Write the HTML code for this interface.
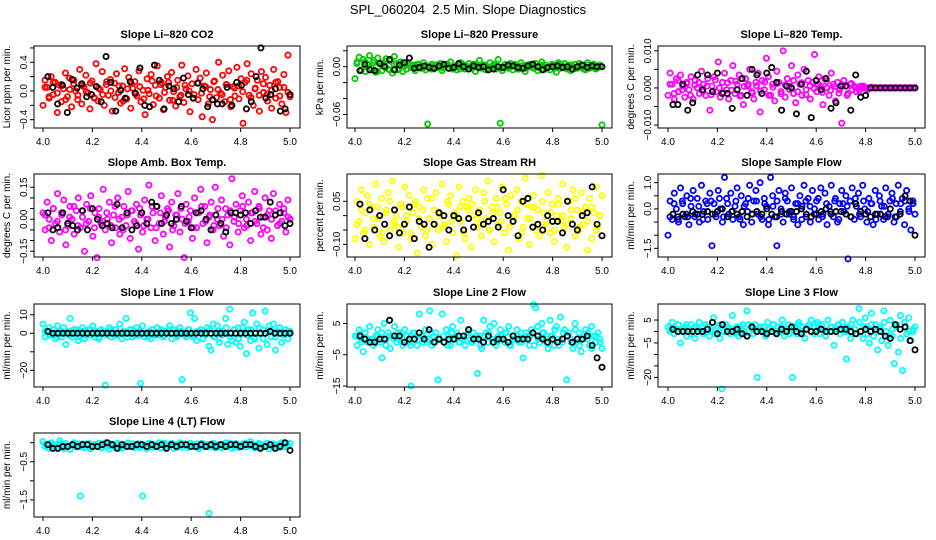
<!DOCTYPE html>
<html><head><meta charset="utf-8"><style>
html,body{margin:0;padding:0;background:#fff;}
svg{display:block;font-family:"Liberation Sans",Arial,sans-serif;}
</style></head><body>
<svg id="chart" width="936" height="540" viewBox="0 0 936 540" xmlns="http://www.w3.org/2000/svg">
<rect width="936" height="540" fill="#fff"/>
<text x="468" y="14" text-anchor="middle" font-size="13">SPL_060204&#160; 2.5 Min. Slope Diagnostics</text>
</svg>
<script>
// ---- data (scaled integers, divided by panel scale) ----
const xTicks = [4.0, 4.2, 4.4, 4.6, 4.8, 5.0];
const xTickLabels = ["4.0", "4.2", "4.4", "4.6", "4.8", "5.0"];

const co2Color = [-20,15,5,-10,20,-5,12,-30,8,-15,3,25,-8,18,-22,10,0,-12,30,-18,6,22,-3,-25,14,-9,38,-14,2,27,-20,9,-6,16,-28,11,24,-2,-17,7,31,-11,19,-24,4,13,-7,28,-15,1,-33,17,-4,23,-19,8,35,-10,12,-26,5,20,-13,26,-1,-21,15,-8,36,-16,3,21,-29,10,-5,30,-12,18,-36,7,25,-18,2,-40,14,-9,40,-3,22,-15,9,28,-22,6,-7,33,-11,17,-45,12,38,-6,24,-20,4,15,-28,27,-2,19,-14,8,-24,30,-10,13,5,-18,23,-30,50,-8];
const co2Core = [5,-8,12,-3,9,-12,2,15,-6,8,-1,11,-10,4,-5,13,0,-9,7,-14,3,10,-4,6,-11,1,14,-7,9,-2,12,-13,5,-6,8,0,-10,11,-3,6,-8,13,2,-5,9,-12,4,7,-1,15,-9,3,-6,10,-4,1,12,-7,5,-2];
const co2Black = [20,5,-18,8,-30,16,4,10,-8,-5,6,-15,48,12,-28,1,-10,13,-3,32,-20,-22,36,15,-25,7,3,-15,18,-5,-10,11,3,-22,-12,-18,-18,5,-20,12,8,-25,-15,20,60,-10,-5,3,-28,-25,-5];

const presColor = [-15,6,12,-4,9,-6,3,14,-2,8,-7,11,5,-5,2,10,-3,7,-8,13,4,-4,6,-6,1,-3,4,-1,2,-5,3,0,-2,5,-4,-72,1,3,-3,2,-1,4,-5,0,3,-2,6,-3,1,-4,2,5,-1,-3,0,4,-2,3,-6,1,8,-2,2,-4,0,5,-1,3,-3,9,-71,-5,2,0,-2,4,-4,3,1,-3,5,-1,-6,2,0,3,-2,4,-5,1,6,-3,2,-1,-4,3,0,-7,5,-2,1,4,-3,2,-5,0,3,-2,4,-1,1,-4,5,-2,0,3,-3,-1,2,-73];
const presCore = [4,-5,6,-3,5,-6,2,7,-4,3,-2,4,-3,2,-1,3,-2,1,-3,2,0,-2,3,-1,1,-3,2,0,-2,3,-1,2,-3,1,0,-2,3,-1,2,-3,1,-2,3,0,-1,2,-3,1,-2,3,0,-1,2,-2,1,-3,2,0,-1,1];
const presBlack = [-5,3,-4,-5,4,0,9,-4,2,5,11,-2,-1,1,-1,-2,1,3,-2,-1,4,0,-3,1,-1,0,-4,-3,0,-1,2,1,-1,-2,1,3,0,-4,-1,0,1,-1,0,-3,0,2,-1,1,0,0];

const tempColor = [-20,40,10,-30,25,-10,35,5,-25,15,-5,30,-30,20,0,-15,45,10,-20,25,-60,5,30,-10,70,-25,15,40,-5,-30,20,60,-15,10,35,-20,-45,25,5,50,-10,-30,15,40,-65,20,-5,80,30,-20,10,-35,45,15,-10,100,-25,25,5,60,-15,-40,35,10,-20,50,-5,20,-30,15,90,-10,30,5,-45,25,0,-20,40,10,-35,15,-5,-95,20,5,-15,10,-5,5,-10,0,5,0,0,0,0,0,0,0,0,0,0,0,0,0,0,0,0,0,0,0,0,0,0,0,0,0,0];
const tempCore = [10,-15,20,-5,12,-20,8,15,-10,5,-18,22,0,-12,14,-6,18,-22,4,10,-14,6,-8,16,-20,2,12,-16,8,-4,20,-10,14,-18,6,-2,10,-12,18,-6,4,-14,8,-20,12,0,-8,5,-4,2,0,0,0,0,0,0,0,0,0,0];
const tempBlack = [-45,-45,10,-60,-40,35,-5,35,-10,40,-15,-15,-55,-5,25,-20,50,35,-15,40,55,15,-60,5,0,-70,10,45,-80,20,-5,25,-55,-40,5,5,-60,35,-25,-20,0,0,0,0,0,0,0,0,0,0];

const ambColor = [3,-5,8,0,-10,5,-2,12,-6,2,9,-12,-3,6,0,-7,4,10,-4,1,-15,7,-1,11,-8,3,-18,5,-2,14,-5,0,8,-11,2,-4,10,-7,1,6,-3,13,-9,4,-1,7,-14,2,-6,9,0,16,-4,3,-10,6,-2,11,-7,1,5,-13,8,-3,2,12,-6,0,-18,7,-1,4,-9,10,-4,3,14,-2,6,-11,1,8,-5,15,0,-3,9,-8,5,2,-12,19,-1,7,-6,4,11,-4,0,8,-10,3,13,-2,6,-7,1,10,-5,4,-9,12,2,-3,7,-1,5,-6,9,0];
const ambCore = [2,-4,5,-1,3,-5,1,6,-3,4,-2,5,-4,1,-1,3,-3,6,0,-5,2,4,-2,5,-3,0,6,-4,3,-1,4,-5,2,5,-2,1,-4,3,6,-1,2,-3,5,0,-4,4,1,-2,6,-3,3,-1,5,-4,2,0,4,-2,3,1];
const ambBlack = [3,-5,-4,3,-2,-3,-5,4,-5,5,0,-3,-2,-4,7,-4,3,-5,-3,3,-2,8,6,-2,2,-2,0,6,-1,-4,3,4,0,-5,2,-2,-6,3,3,2,3,-2,4,1,1,8,2,3,-3,-2];

const rhColor = [-8,5,-2,9,-6,1,7,-10,3,-4,11,-1,-7,6,-9,2,8,-5,12,-3,0,-11,4,-6,10,-2,7,-8,1,5,-13,3,-4,9,-7,6,-1,-10,2,8,-5,0,11,-3,-9,4,7,-6,1,-14,10,-2,5,-8,3,6,-11,0,9,-4,2,-7,8,-1,12,-5,3,-9,6,-3,1,10,-6,4,-12,7,-2,0,9,-8,5,-4,13,-1,-10,3,7,-5,2,-7,14,1,-3,8,-6,4,-9,0,6,-2,11,-4,-11,5,-1,9,-7,2,-5,8,-3,3,-12,6,-8,1,10,-4,0,7];
const rhCore = [-3,2,-5,4,-1,3,-6,1,5,-2,-4,3,0,-6,4,-1,2,-5,6,-3,1,-4,5,-2,0,3,-6,2,4,-1,-3,5,-5,1,3,-2,6,-4,0,2,-6,4,-1,3,-3,5,-2,1,-5,4,0,-3,2,6,-4,1,-2,3,-5,0];
const rhBlack = [4,-8,2,-5,0,-3,-7,2,-6,-3,3,-8,-2,-3,-11,-3,1,0,-5,0,-1,-5,-1,-4,1,-3,-2,-1,-4,9,0,-2,-7,5,6,-4,-3,-5,0,-2,-2,-6,5,-3,-5,0,1,10,-3,-7];

const sampColor = [-10,3,-4,6,0,-5,8,2,-3,5,-6,1,7,-2,4,-5,9,-1,3,-4,6,-14,2,-3,7,0,-5,12,4,-2,6,-4,1,8,-3,5,-6,2,-1,9,-5,3,7,-2,10,-4,4,1,-6,12,5,-3,-14,7,0,-5,6,3,-2,8,-4,2,-6,5,1,9,-3,4,-5,7,0,3,-4,8,-2,6,-6,1,9,-3,4,-5,2,7,-1,5,-19,3,8,-4,1,6,-3,9,0,-5,4,2,-6,7,-2,5,1,-4,8,-3,3,6,-5,2,9,-1,4,-6,7,0,-8,3,-2];
const sampCore = [-3,2,-4,3,-2,4,-3,1,-4,2,3,-2,4,-3,2,-1,3,-4,1,4,-2,3,-3,2,-4,1,3,-2,4,-1,-3,2,-4,3,1,-2,4,-3,2,-1,3,-4,2,1,-3,4,-2,3,-1,2,-4,3,1,-2,4,-3,2,3,-1,2];
const sampBlack = [-2,-3,-2,-3,-1,-2,-2,-1,-2,-1,0,-3,-1,-2,-1,-3,-2,-1,-2,0,-2,-3,-1,-2,-1,-1,0,-2,-3,-2,-1,0,-2,-1,-1,-2,-3,2,-1,-2,-3,-2,-2,-3,0,-3,-2,5,3,-10];

const l1Color = [5,-2,1,3,-1,2,-3,4,0,-2,3,-6,1,8,-2,0,2,-4,1,3,-3,0,2,-1,4,-2,1,-3,2,0,-28,1,3,-2,0,2,-1,5,-3,1,8,0,2,-2,1,3,-1,-27,4,-2,0,1,-3,2,0,3,-1,2,-2,1,0,4,-3,2,1,-1,3,-25,0,-2,2,11,-1,8,-4,1,2,-3,0,3,-7,-9,5,-2,4,-5,1,0,8,-6,13,-4,2,-5,3,-7,0,6,-11,2,-4,11,-3,5,-8,0,2,12,-6,4,-2,5,-9,1,3,-5,0,2,-3,1];
const l1Core = [1,-1,2,-2,1,0,-1,2,-2,1,-1,2,0,-2,1,-1,2,-1,0,1,-2,2,-1,1,0,-2,2,-1,1,-1,2,0,-2,1,-1,2,-2,1,0,-1,2,-2,1,-1,3,-2,2,-3,3,-1,2,-2,3,-3,1,2,-2,3,-1,1];
const l1Black = [1,0,0,0,0,0,0,0,0,0,0,0,0,0,0,0,0,0,0,0,0,0,0,0,0,0,0,0,0,0,0,0,0,0,0,0,0,0,0,0,0,0,0,0,0,1,0,0,0,0];

const l2Color = [1,-2,3,0,-4,2,-1,4,0,-2,1,3,-1,-6,5,0,2,-3,1,4,-1,0,2,-2,3,1,-1,-15,2,0,-2,8,1,-1,3,0,9,-2,1,2,-13,0,8,-1,3,1,-2,4,0,2,-1,6,0,-2,1,3,-1,2,0,-11,1,-3,6,2,-1,4,0,5,-2,1,3,0,-1,2,4,-2,1,0,3,-1,2,-6,0,1,-2,3,11,10,4,-1,5,2,0,-3,6,1,-2,4,0,7,-1,3,-13,2,0,-3,5,-1,2,-4,1,3,0,-2,4,1,-1,2,0,-3];
const l2Core = [1,-1,2,0,-1,1,2,-2,1,0,2,-1,1,-2,2,0,1,-1,2,-1,0,1,-2,2,1,-1,0,2,-1,1,-2,1,2,0,-1,1,2,-2,0,1,-1,2,1,-2,0,2,-1,1,3,-2,2,1,-1,3,-2,0,2,-3,1,-1];
const l2Black = [1,0,-1,-1,0,0,6,1,1,-1,0,0,2,0,3,-1,0,-1,0,0,1,1,3,0,0,-1,1,-1,0,0,-1,1,0,0,0,2,1,0,-1,0,-1,0,1,-1,0,0,1,-2,-6,-9];

const l3Color = [2,0,4,-1,1,3,-5,0,2,-2,1,3,0,-3,2,4,0,-1,3,1,-2,0,6,-1,2,-3,-25,0,3,1,-1,7,0,2,-2,1,3,-1,9,0,2,-1,3,-20,1,0,2,-2,4,1,0,3,-1,2,0,5,-2,1,3,0,-20,2,-1,4,0,2,-3,1,3,5,2,0,4,-1,3,1,-2,5,0,2,-6,1,3,-1,4,0,-12,2,-3,5,1,-1,10,0,-3,6,2,-5,8,-2,3,-8,1,-4,9,0,-6,5,-2,-14,2,-9,7,-17,4,-1,6,-4,0,2];
const l3Core = [1,2,0,1,3,-1,2,1,0,2,1,-1,3,0,2,1,-1,2,0,3,1,0,2,-1,1,3,0,2,1,-1,2,3,0,1,2,-1,3,1,0,2,1,3,2,0,3,1,4,2,-1,3,0,2,4,-2,1,3,-3,2,0,1];
const l3Black = [1,0,0,0,0,0,0,1,4,-1,3,0,0,1,-1,-2,2,0,0,-1,0,-1,1,0,2,0,-1,1,0,0,1,0,0,0,1,1,0,-1,0,1,0,1,0,-2,-3,3,1,2,-4,-8];

const l4Color = [3,-10,-5,-15,0,-8,-12,-3,5,-6,-15,-2,-9,-18,-4,0,-11,-7,-140,-3,-13,-6,-1,-16,-8,-4,-10,-2,-14,-5,0,-9,-17,-3,-7,-12,-1,-6,-15,-4,-8,0,-11,-3,-13,-6,-2,-10,-140,-5,-16,-1,-8,-12,-4,-9,0,-14,-6,-3,-11,-7,-2,-15,-5,-9,0,-12,-4,-8,-13,-1,-6,-10,-3,-16,-7,-2,-11,-5,-185,-9,-1,-14,-6,-4,-12,-8,0,-10,-3,-15,-7,-2,-13,-5,-9,-1,-11,-6,3,-4,-14,-8,-2,-12,-5,-10,-1,-16,-7,-3,-9,-13,-6,0,-11,-4,-8,-2];
const l4Core = [-4,-12,-6,-9,-2,-14,-7,-10,-3,-11,-5,-13,-8,-1,-12,-6,-9,-4,-15,-7,-2,-10,-5,-13,-8,-3,-11,-6,-14,-1,-9,-5,-12,-7,-3,-10,-6,-13,-2,-8,-11,-4,-9,-14,-6,-1,-12,-7,-10,-3,-8,-13,-5,-11,-2,-9,-6,-12,-4,-10];
const l4Black = [-5,-15,-15,-10,-10,-5,-10,-5,-5,-10,-10,-5,0,-5,-15,-5,-10,-10,-5,-5,-10,-5,-10,-5,-15,-5,-10,-5,-5,-10,-10,-5,-10,-5,-10,-5,-10,-5,-5,-10,-5,-5,-10,-15,-10,-5,-15,-10,0,-20];

// ---- panel definitions ----
const cols = [[34,300,43,290],[347,612,355,602],[658,925,668,915]];
const rows = [[46,128],[174,257],[304,387],[433,517]];
const panels = [
 {name:"co2",title:"Slope Li\u2013820 CO2",ylab:"Licor ppm per min.",color:"#ff0000",c:co2Color,k:co2Core,b:co2Black,scale:100,ymin:-0.516,ymax:0.627,ticks:[-0.4,-0.2,0,0.2,0.4,0.6],labels:{"-0.4":"\u22120.4","0":"0.0","0.4":"0.4"},col:0,row:0},
 {name:"pressure",title:"Slope Li\u2013820 Pressure",ylab:"kPa per min.",color:"#00cc00",c:presColor,k:presCore,b:presBlack,scale:1000,ymin:-0.077,ymax:0.026,ticks:[0.02,0,-0.02,-0.04,-0.06],labels:{"0":"0.00","-0.06":"\u22120.06"},col:1,row:0},
 {name:"li820-temp",title:"Slope Li\u2013820 Temp.",ylab:"degrees C per min.",color:"#ff00ff",c:tempColor,k:tempCore,b:tempBlack,scale:10000,ymin:-0.0108,ymax:0.0113,ticks:[0.01,0.005,0,-0.005,-0.01],labels:{"0.01":"0.010","0":"0.000","-0.01":"\u22120.010"},col:2,row:0},
 {name:"amb-box-temp",title:"Slope Amb. Box Temp.",ylab:"degrees C per min.",color:"#ff00ff",c:ambColor,k:ambCore,b:ambBlack,scale:100,ymin:-0.177,ymax:0.212,ticks:[0.15,0.1,0.05,0,-0.05,-0.1,-0.15],labels:{"0.15":"0.15","0":"0.00","-0.15":"\u22120.15"},col:0,row:1},
 {name:"gas-stream-rh",title:"Slope Gas Stream RH",ylab:"percent per min.",color:"#ffff00",c:rhColor,k:rhCore,b:rhBlack,scale:100,ymin:-0.144,ymax:0.145,ticks:[0.05,0,-0.05,-0.1],labels:{"0.05":"0.05","-0.1":"\u22120.10"},col:1,row:1},
 {name:"sample-flow",title:"Slope Sample Flow",ylab:"ml/min per min.",color:"#0000ff",c:sampColor,k:sampCore,b:sampBlack,scale:10,ymin:-1.83,ymax:1.33,ticks:[1,0.5,0,-0.5,-1,-1.5],labels:{"1":"1.0","0":"0.0","-1.5":"\u22121.5"},col:2,row:1},
 {name:"line1-flow",title:"Slope Line 1 Flow",ylab:"ml/min per min.",color:"#00ffff",c:l1Color,k:l1Core,b:l1Black,scale:1,ymin:-29,ymax:15.8,ticks:[10,0,-10,-20],labels:{"10":"10","0":"0","-20":"\u221220"},col:0,row:2},
 {name:"line2-flow",title:"Slope Line 2 Flow",ylab:"ml/min per min.",color:"#00ffff",c:l2Color,k:l2Core,b:l2Black,scale:1,ymin:-15.3,ymax:11.2,ticks:[5,-5,-15],labels:{"5":"5","-5":"\u22125","-15":"\u221215"},col:1,row:2},
 {name:"line3-flow",title:"Slope Line 3 Flow",ylab:"ml/min per min.",color:"#00ffff",c:l3Color,k:l3Core,b:l3Black,scale:1,ymin:-24.2,ymax:12,ticks:[5,0,-5,-10,-15,-20],labels:{"5":"5","-5":"\u22125","-20":"\u221220"},col:2,row:2},
 {name:"line4-flow",title:"Slope Line 4 (LT) Flow",ylab:"ml/min per min.",color:"#00ffff",c:l4Color,k:l4Core,b:l4Black,scale:100,ymin:-1.95,ymax:0.255,ticks:[0,-0.5,-1,-1.5],labels:{"-0.5":"\u22120.5","-1.5":"\u22121.5"},col:0,row:3}
];

const NS = "http://www.w3.org/2000/svg";
const svg = document.getElementById("chart");
function mk(tag, attrs, parent){
  const e = document.createElementNS(NS, tag);
  for (const k in attrs) e.setAttribute(k, attrs[k]);
  parent.appendChild(e);
  return e;
}

panels.forEach(p => {
  const [bx0, bx1, dx0, dx1] = cols[p.col];
  const [by0, by1] = rows[p.row];
  const xs = v => dx0 + (v - 4) / 1 * (dx1 - dx0);
  const ys = v => by1 - (v - p.ymin) / (p.ymax - p.ymin) * (by1 - by0);
  const g = mk("g", {}, svg);
  
  

  const t = mk("text", {x:(bx0+bx1)/2, y:by0-8, "text-anchor":"middle", "font-size":"11", "font-weight":"bold"}, g);
  
  
  t.textContent = p.title;

  const yl = mk("text", {x:0, y:0, "text-anchor":"middle", "font-size":"10", transform:`translate(${bx0-24},${(by0+by1)/2}) rotate(-90)`}, g);
  
  
  yl.textContent = p.ylab;

  const pts = mk("g", {fill:"none", "stroke-width":"1.8"}, g);
  
  
  const n = p.c.length;
  p.c.forEach((v, i) => {
    const c = mk("circle", {cx:xs(4 + i/(n-1)), cy:ys(v/p.scale), r:2.6, stroke:p.color}, pts);
    
    
  });
  const q = p.k.length;
  p.k.forEach((v, i) => {
    const c = mk("circle", {cx:xs(4.008 + i/(q-1)*0.984), cy:ys(v/p.scale), r:2.6, stroke:p.color}, pts);
    
    
  });
  const m = p.b.length;
  p.b.forEach((v, i) => {
    const c = mk("circle", {cx:xs(4.02 + i/(m-1)*0.98), cy:ys(v/p.scale), r:2.6, stroke:"#000"}, pts);
    
    
  });

  const box = mk("rect", {x:bx0, y:by0, width:bx1-bx0, height:by1-by0, fill:"none", stroke:"#000", "stroke-width":"1"}, g);
  
  

  const xa = mk("g", {}, g);
  
  
  xTicks.forEach((v, i) => {
    mk("line", {x1:xs(v), x2:xs(v), y1:by1, y2:by1+4, stroke:"#000"}, xa);
    const tl = mk("text", {x:xs(v), y:by1+17, "text-anchor":"middle", "font-size":"10"}, xa);
    
    
    tl.textContent = xTickLabels[i];
  });

  const ya = mk("g", {}, g);
  
  
  p.ticks.forEach(v => {
    mk("line", {x1:bx0-4, x2:bx0, y1:ys(v), y2:ys(v), stroke:"#000"}, ya);
    const key = String(v);
    if (p.labels[key] !== undefined) {
      const tl = mk("text", {x:0, y:0, "text-anchor":"middle", "font-size":"10", transform:`translate(${bx0-7},${ys(v)}) rotate(-90)`}, ya);
      
      
      tl.textContent = p.labels[key];
    }
  });
});
</script>
</body></html>
